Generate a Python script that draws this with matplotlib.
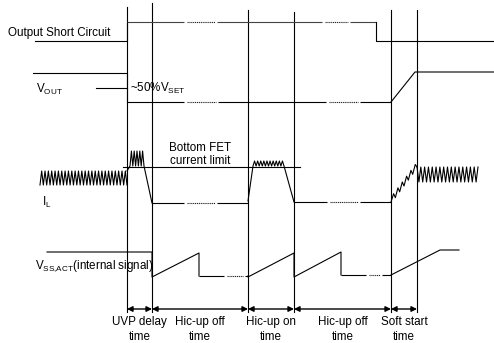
import matplotlib
matplotlib.use('Agg')
import matplotlib.pyplot as plt
import numpy as np

plt.rcParams['font.family'] = ['Liberation Sans', 'DejaVu Sans']
plt.rcParams['mathtext.fontset'] = 'custom'
plt.rcParams['mathtext.rm'] = 'Liberation Sans'

# ---- data (diagram units: x = time axis, y = vertical position, downward) ----
t_events = [127, 152, 248, 294, 391, 417]          # phase boundaries
event_top = [7, 3, 10, 12, 10, 10]
event_bottom = 312

phase_labels = ["UVP delay\ntime", "Hic-up off\ntime", "Hic-up on\ntime",
                "Hic-up off\ntime", "Soft start\ntime"]

# Output short circuit signal
osc_low, osc_high = 41, 22
osc_start, osc_release, osc_end = 35, 376, 494
osc_gaps = [(184, 217), (322, 350)]

# VOUT
vout_level, vout_fault = 73, 102
vout_start, vout_end, vout_ramp_end = 33, 494, 415
vout_gaps = [(184, 218), (326, 360)]

# IL
il_norm = (171, 185)       # ripple band (top, bottom) before fault
il_limit_band = (151, 166) # ripple band during UVP delay
il_hic_band = (161, 166)   # ripple band during hic-up on
il_off = 203
il_after = (167, 182)
il_limit_line = 167
il_gaps = [(184, 217), (327, 360)]
il_ripple_n = [26, 5, 10, 16]
il_soft_teeth = 6

# VSS,ACT
vss_high, vss_low = 252, 277
vss_peaks = [253, 253, 252]
vss_final = 250
vss_gaps = [(224, 245), (366, 382)]

BLACK = 'black'
LW = 0.8
FS = 8.4


def zigzag(x0, x1, top, bottom, n):
    xs = np.linspace(x0, x1, 2 * n + 1)
    ys = np.where(np.arange(2 * n + 1) % 2 == 0, bottom, top)
    return xs, ys


def hline_gapped(ax, x0, x1, y, gaps, color=BLACK, lw=LW):
    segs = []
    cur = x0
    for g0, g1 in gaps:
        if g0 > x0 and g1 < x1:
            segs.append((cur, g0))
            ax.plot([g0 + 2.5, g1 - 2.5], [y, y], color='#222222', lw=lw,
                    linestyle=(0, (1.0, 0.7)))
            cur = g1
    segs.append((cur, x1))
    for a, b in segs:
        ax.plot([a, b], [y, y], color=color, lw=lw, solid_capstyle='butt')


fig = plt.figure(figsize=(4.94, 3.43), dpi=100)
ax = fig.add_axes([0, 0, 1, 1])
ax.set_xlim(0, 494)
ax.set_ylim(343, 0)
ax.axis('off')

# vertical event lines
for x, top in zip(t_events, event_top):
    ax.plot([x, x], [top, event_bottom], color=BLACK, lw=LW)

e = t_events

# ---- Output short circuit ----
ax.plot([osc_start, e[0], e[0]], [osc_low, osc_low, osc_high], color=BLACK, lw=LW)
hline_gapped(ax, e[0], osc_release, osc_high, osc_gaps, color='#444444')
ax.plot([osc_release, osc_release, osc_end], [osc_high, osc_low, osc_low], color=BLACK, lw=LW)
ax.text(8, 33, "Output Short Circuit", fontsize=FS, va='center', ha='left')

# ---- VOUT ----
ax.plot([vout_start, e[0], e[0]], [vout_level, vout_level, vout_fault], color=BLACK, lw=LW)
hline_gapped(ax, e[0], e[4], vout_fault, vout_gaps)
ax.plot([e[4], vout_ramp_end, vout_end], [vout_fault, vout_level - 1, vout_level - 1],
        color=BLACK, lw=LW)
ax.plot([96, e[0]], [88, 88], color=BLACK, lw=LW)
ax.text(130, 88, r"~50%$\mathrm{V_{SET}}$", fontsize=FS, va='center', ha='left')
ax.text(36, 89, r"$\mathrm{V_{OUT}}$", fontsize=FS, va='center', ha='left')

# ---- IL ----
xs, ys = zigzag(40, e[0], il_norm[0], il_norm[1], il_ripple_n[0])
ax.plot(xs, ys, color=BLACK, lw=LW)
xs2, ys2 = zigzag(130, 144, il_limit_band[0], il_limit_band[1], il_ripple_n[1])
ax.plot(np.r_[e[0], xs2, e[1]], np.r_[il_norm[0], ys2, il_off], color=BLACK, lw=LW)
hline_gapped(ax, e[1], e[2], il_off, il_gaps)
xs3, ys3 = zigzag(253, 284, il_hic_band[0], il_hic_band[1], il_ripple_n[2])
ax.plot(np.r_[e[2], xs3, e[3]], np.r_[il_off - 2, ys3, il_off - 1], color=BLACK, lw=LW)
hline_gapped(ax, e[3], e[4], il_off - 1, il_gaps[1:])
# soft start sawtooth ramp
n = il_soft_teeth
sx = [e[4]]
sy = [il_off - 1]
step = (e[5] - e[4]) / n
rise = (il_off - 1 - il_after[0]) / n
for i in range(n):
    sx += [e[4] + step * (i + 0.6), e[4] + step * (i + 1)]
    sy += [il_off - 1 - rise * (i + 1) - 2.5, il_off - 1 - rise * (i + 1) + 1.5]
sx[-1] = e[5]
sy[-1] = il_after[0]
ax.plot(sx, sy, color=BLACK, lw=LW)
xs4, ys4 = zigzag(e[5], 478, il_after[1], il_after[0], il_ripple_n[3])
ax.plot(xs4, ys4, color=BLACK, lw=LW)
ax.plot([123, 300], [il_limit_line, il_limit_line], color=BLACK, lw=LW)
ax.text(200, 148, "Bottom FET", fontsize=FS, va='center', ha='center')
ax.text(200, 161, "current limit", fontsize=FS, va='center', ha='center')
ax.text(42, 202, r"$\mathrm{I_{L}}$", fontsize=FS, va='center', ha='left')

# ---- VSS,ACT ----
ax.plot([47, e[1], e[1], 199, 199], [vss_high, vss_high, vss_low, vss_peaks[0], vss_low - 1],
        color=BLACK, lw=LW)
hline_gapped(ax, 199, e[2], vss_low - 1, vss_gaps[:1])
ax.plot([e[2], e[2], e[3], e[3], 341, 341], [vss_low - 1, vss_low, vss_peaks[1], vss_low, vss_peaks[2], vss_low - 2],
        color=BLACK, lw=LW)
hline_gapped(ax, 341, e[4], vss_low - 2, vss_gaps[1:])
ax.plot([e[4], 440, 459], [vss_low - 2, vss_final, vss_final], color=BLACK, lw=LW)
ax.text(35, 266, r"$\mathrm{V_{SS{,}ACT}}$(internal signal)", fontsize=FS, va='center', ha='left')

# ---- phase arrows and labels ----
for (a, b), lab in zip(zip(e[:-1], e[1:]), phase_labels):
    ax.annotate('', xy=(b, 309), xytext=(a, 309),
                arrowprops=dict(arrowstyle='<|-|>', color=BLACK, lw=1.0,
                                mutation_scale=8, shrinkA=0, shrinkB=0))
    l1, l2 = lab.split('\n')
    ax.text((a + b) / 2, 322, l1, fontsize=FS, va='center', ha='center')
    ax.text((a + b) / 2, 337, l2, fontsize=FS, va='center', ha='center')

fig.savefig('out.png', dpi=100)
